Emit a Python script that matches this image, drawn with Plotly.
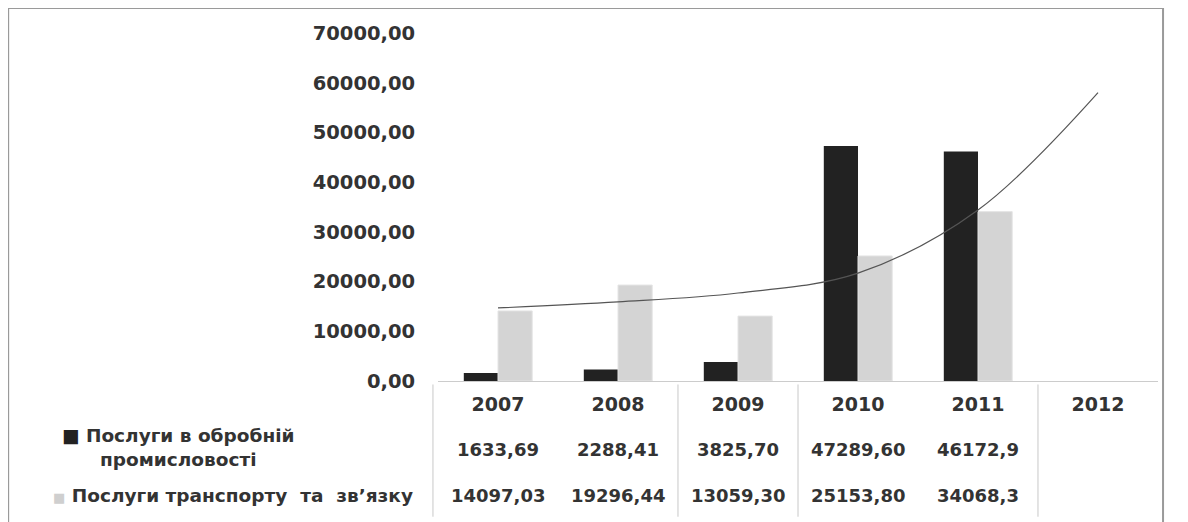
import plotly.graph_objects as go

years = ["2007", "2008", "2009", "2010", "2011", "2012"]
manuf_text = ["1633,69", "2288,41", "3825,70", "47289,60", "46172,9", ""]
transp_text = ["14097,03", "19296,44", "13059,30", "25153,80", "34068,3", ""]
trend_vals = [14700, 15900, 17700, 21700, 34400, 58000]
y_ticks = [0, 10000, 20000, 30000, 40000, 50000, 60000, 70000]

manuf_name = "Послуги в обробній промисловості"
transp_name = "Послуги транспорту  та  зв’язку"


def to_num(s):
    return float(s.replace(",", ".")) if s else None


manuf = [to_num(s) for s in manuf_text]
transp = [to_num(s) for s in transp_text]
xpos = list(range(len(years)))

FONT = "DejaVu Sans"
TXT = "#333333"
DARK = "#222222"
LIGHT = "#d4d4d4"
NUMFONT = dict(family=FONT, size=18, color=TXT, weight="bold")
YFONT = dict(family=FONT, size=19.5, color=TXT, weight="bold")
XFONT = dict(family=FONT, size=19, color=TXT, weight="bold")
LBLFONT = dict(family=FONT, size=18.5, color=TXT, weight="bold")

fig = go.Figure()
fig.add_bar(x=xpos, y=manuf, name=manuf_name, marker=dict(color=DARK, line=dict(width=0)))
fig.add_bar(x=xpos, y=transp, name=transp_name,
            marker=dict(color=LIGHT, line=dict(color="#e4e4e4", width=1)))
fig.add_scatter(x=xpos, y=trend_vals, mode="lines", line=dict(color="#555555", width=1.2, shape="spline"),
                showlegend=False)

annotations = []
for i, a, b in zip(xpos, manuf_text, transp_text):
    annotations.append(dict(x=i, y=-0.198, xref="x", yref="paper", text=a, showarrow=False,
                            xanchor="center", yanchor="middle", font=NUMFONT))
    annotations.append(dict(x=i, y=-0.328, xref="x", yref="paper", text=b, showarrow=False,
                            xanchor="center", yanchor="middle", font=NUMFONT))

annotations.append(dict(x=-0.36, y=-0.19, xref="paper", yref="paper", showarrow=False, align="center",
                        xanchor="center", yanchor="middle",
                        text='<span style="color:#222222">■</span> ' + "Послуги в обробній<br>промисловості",
                        font=LBLFONT))
annotations.append(dict(x=-0.537, y=-0.328, xref="paper", yref="paper", showarrow=False,
                        xanchor="left", yanchor="middle",
                        text='<span style="color:#cfcfcf;font-size:13px">■</span> ' + transp_name,
                        font=LBLFONT))

shapes = [
    dict(type="rect", xref="paper", yref="paper", x0=-0.597, x1=1.007, y0=-0.41, y1=1.072,
         line=dict(color="#9a9a9a", width=2)),
]
for bx in [-0.007, 0.3333, 0.5, 0.8333]:
    shapes.append(dict(type="line", xref="paper", yref="paper", x0=bx, x1=bx, y0=-0.01, y1=-0.39,
                       line=dict(color="#c8c8c8", width=1)))

fig.update_layout(
    width=1188, height=522,
    margin=dict(l=430, r=38, t=25, b=149),
    paper_bgcolor="white", plot_bgcolor="white",
    barmode="group", bargap=0.43, bargroupgap=0,
    showlegend=False,
    separators=",.",
    font=dict(family=FONT, color=TXT),
    annotations=annotations,
    shapes=shapes,
)
fig.update_yaxes(range=[0, 70000], tickvals=y_ticks, tickformat=".2f", showgrid=False, zeroline=False,
                 ticks="outside", ticklen=18, tickcolor="rgba(0,0,0,0)",
                 tickfont=YFONT)
fig.update_xaxes(range=[-0.5, len(years) - 0.5], tickvals=xpos, ticktext=years,
                 showgrid=False, showline=True, linecolor="#cccccc", linewidth=1, zeroline=False,
                 ticks="outside", ticklen=6, tickcolor="rgba(0,0,0,0)",
                 tickfont=XFONT)

fig.write_html("out.html")
